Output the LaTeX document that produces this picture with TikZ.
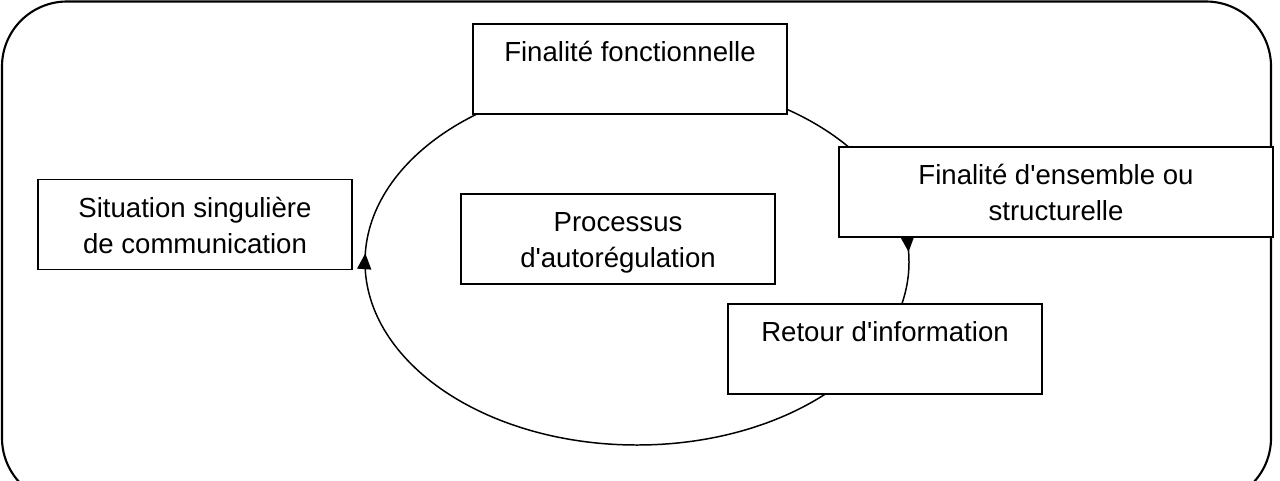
\documentclass[tikz,border=0pt]{standalone}
\usepackage{fontspec}
\newfontfamily\lsans{Liberation Sans}
\usetikzlibrary{arrows.meta,decorations.markings}
\newcommand{\hs}{\rule{0pt}{18.5pt}}
\newcommand{\ds}{\rule[-6.1pt]{0pt}{6.1pt}}
\begin{document}
\begin{tikzpicture}[x=0.02cm,y=-0.02cm,
  box/.style={draw, line width=1.1pt, fill=white, align=center, inner sep=0pt,
    minimum width=6.28cm, minimum height=1.8cm,
    font=\lsans\fontsize{15.7}{20.4}\selectfont},
  loopline/.style={line width=0.85pt},
  frame/.style={line width=1.2pt, rounded corners=1.3cm},
  looptip/.tip={Triangle[length=9pt,width=8pt]}]
\useasboundingbox (0,0) rectangle (1280,480);
\begin{scope}
  \clip (0,0) rectangle (1280,480);
  \draw[frame] (2,1.5) rectangle (1271,503);
\end{scope}
% self-regulation loop
\draw[loopline, postaction={decorate},
  decoration={markings,
    mark=at position 0.506 with {\arrow{looptip}},
    mark=at position 0.993 with {\arrow{looptip}}}]
  (637,262) ellipse [x radius=272, y radius=183];
% boxes
\node[box] (ff) at (630,69) {Finalité fonctionnelle\hs\\\ds};
\node[box] (sit) at (195,224.5) {Situation singulière\hs\\de communication\ds};
\node[box] (proc) at (618,239) {Processus\hs\\d'autorégulation\ds};
\node[box, minimum width=8.68cm] (fe) at (1056,192) {Finalité d'ensemble ou\hs\\structurelle\ds};
\node[box] (ret) at (885,349) {Retour d'information\hs\\\ds};
\end{tikzpicture}
\end{document}
